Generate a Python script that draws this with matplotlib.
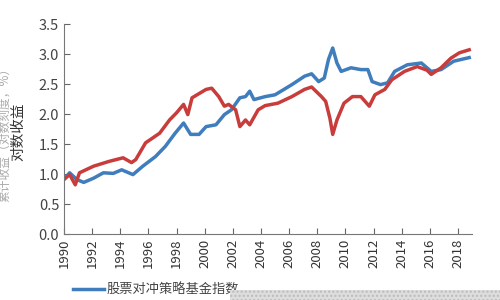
import matplotlib.pyplot as plt
from matplotlib.patches import Rectangle

plt.rcParams['font.family'] = ['Noto Sans CJK SC', 'DejaVu Sans']

# 红线
red_year = [1990.0, 1990.4, 1990.8, 1991.1, 1992.1, 1993.2, 1994.2, 1994.8, 1995.1, 1995.8,
            1996.8, 1997.5, 1998.0, 1998.5, 1998.8, 1999.1, 2000.1, 2000.5, 2001.0, 2001.4,
            2001.7, 2002.2, 2002.5, 2002.9, 2003.2, 2003.8, 2004.3, 2005.2, 2006.2, 2007.1,
            2007.6, 2008.3, 2008.6, 2008.9, 2009.1, 2009.4, 2009.9, 2010.5, 2011.1, 2011.7,
            2012.1, 2012.8, 2013.3, 2014.2, 2015.1, 2015.8, 2016.1, 2016.8, 2017.5, 2018.1,
            2018.8]
red_val = [0.91, 0.99, 0.82, 1.02, 1.13, 1.21, 1.27, 1.19, 1.24, 1.52,
           1.68, 1.90, 2.02, 2.16, 1.99, 2.27, 2.41, 2.43, 2.29, 2.13,
           2.16, 2.07, 1.79, 1.90, 1.82, 2.07, 2.14, 2.18, 2.29, 2.41,
           2.45, 2.29, 2.21, 1.93, 1.66, 1.90, 2.18, 2.29, 2.29, 2.13,
           2.32, 2.41, 2.57, 2.71, 2.79, 2.73, 2.66, 2.77, 2.93, 3.02,
           3.07]

# 蓝线
blue_year = [1990.0, 1990.4, 1990.9, 1991.4, 1992.1, 1992.8, 1993.5, 1994.1, 1994.9, 1995.6,
             1996.5, 1997.2, 1997.9, 1998.5, 1999.0, 1999.6, 2000.1, 2000.8, 2001.4, 2001.9,
             2002.5, 2002.9, 2003.2, 2003.5, 2004.3, 2005.0, 2006.2, 2007.1, 2007.6, 2008.1,
             2008.5, 2008.8, 2009.1, 2009.4, 2009.7, 2010.4, 2011.1, 2011.6, 2011.9, 2012.5,
             2013.0, 2013.5, 2014.4, 2015.4, 2016.1, 2016.8, 2017.7, 2018.8]
blue_val = [0.91, 1.02, 0.91, 0.86, 0.93, 1.02, 1.01, 1.07, 0.99, 1.13,
            1.29, 1.46, 1.68, 1.85, 1.66, 1.66, 1.79, 1.82, 1.99, 2.07,
            2.27, 2.29, 2.38, 2.24, 2.29, 2.32, 2.49, 2.63, 2.67, 2.54,
            2.60, 2.91, 3.10, 2.85, 2.71, 2.77, 2.74, 2.74, 2.54, 2.49,
            2.52, 2.71, 2.82, 2.85, 2.71, 2.74, 2.88, 2.94]

years = list(range(1990, 2019, 2))
yticks = [0.0, 0.5, 1.0, 1.5, 2.0, 2.5, 3.0, 3.5]

fig = plt.figure(figsize=(5, 3), dpi=100)
ax = fig.add_axes([0.128, 0.22, 0.816, 0.70])

ax.plot(blue_year, blue_val, color='#3f7dbd', lw=2.5, label='股票对冲策略基金指数')
ax.plot(red_year, red_val, color='#c83c3c', lw=2.5)

ax.set_xlim(1990, 2019.0)
ax.set_ylim(0, 3.5)
ax.set_xticks(years)
ax.set_xticklabels([str(y) for y in years], rotation=90, fontsize=9.5, color='#333333')
ax.set_yticks(yticks)
ax.set_yticklabels([f'{v:.1f}' for v in yticks], fontsize=10.5, color='#444444')
ax.tick_params(direction='in', length=4, color='#666666')
for s in ['top', 'right']:
    ax.spines[s].set_visible(False)
for s in ['left', 'bottom']:
    ax.spines[s].set_color('#777777')

fig.text(0.036, 0.56, '对数收益', rotation=90, fontsize=10.5, color='#333333',
         ha='center', va='center')
fig.text(0.010, 0.56, '累计收益（对数刻度，%）', rotation=90, fontsize=8.5, color='#aaaaaa',
         ha='center', va='center')

ax.legend(loc='upper left', bbox_to_anchor=(0.0, -0.19), frameon=False,
          fontsize=9.5, handlelength=2.3, handletextpad=0.2, labelcolor='#444444',
          borderpad=0.2)

fig.patches.append(Rectangle((0.46, 0.0), 0.54, 0.035, transform=fig.transFigure,
                             facecolor='#dddddd', edgecolor='#bbbbbb', hatch='....', lw=0))

fig.savefig('out.png')
